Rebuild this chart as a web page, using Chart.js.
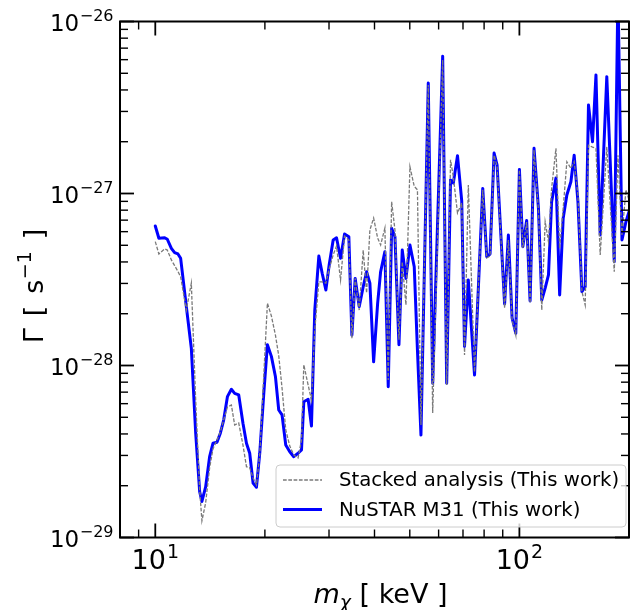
<!DOCTYPE html>
<html><head><meta charset="utf-8">
<script src="https://cdn.jsdelivr.net/npm/chart.js@4.4.0/dist/chart.umd.min.js"></script>
<style>html,body{margin:0;padding:0;background:#fff;}canvas{display:block;}</style>
</head><body>
<canvas id="c" width="637" height="610"></canvas>
<script>
// ---- data ----
const massKeV = [
 10.0, 10.23, 10.61, 10.79, 11.07, 11.30, 11.54, 11.74, 12.17, 12.56,
 12.91, 13.24, 13.43, 13.75, 14.10, 14.40, 14.77, 15.09, 15.41, 15.78,
 16.18, 16.52, 16.95, 17.41, 17.80, 18.17, 18.56, 18.96, 19.36, 19.86,
 20.32, 20.84, 21.38, 21.83, 22.29, 22.82, 23.41, 24.01, 24.67, 25.21,
 25.58, 26.29, 26.85, 27.42, 28.13, 28.73, 29.41, 30.03, 30.80, 31.46,
 32.27, 33.10, 34.01, 34.67, 35.40, 36.31, 37.24, 38.05, 38.85, 39.78,
 40.80, 41.58, 42.72, 43.63, 44.58, 45.52, 46.69, 47.67, 48.80, 50.05,
 51.43, 52.48, 53.66, 56.20, 57.79, 61.56, 63.14, 64.69, 65.85, 67.61,
 69.44, 70.68, 72.40, 75.30, 79.31, 81.35, 83.07, 85.21, 86.85, 91.07,
 93.27, 95.48, 97.75, 100.0, 102.2, 104.7, 107.0, 109.7, 112.8, 115.2,
 117.7, 120.2, 122.6, 126.0, 129.0, 131.9, 135.0, 138.5, 141.4, 144.8,
 148.5, 151.6, 154.8, 158.8, 162.3, 166.7, 173.8, 182.2, 186.5, 191.3,
 196.2, 200.0
];
const gammaM31 = [
 6.47e-28, 5.49e-28, 5.53e-28, 5.42e-28, 4.80e-28, 4.53e-28, 4.45e-28, 4.20e-28, 2.20e-28, 1.26e-28,
 4.05e-29, 1.85e-29, 1.62e-29, 1.97e-29, 2.95e-29, 3.53e-29, 3.58e-29, 4.04e-29, 4.82e-29, 6.59e-29,
 7.27e-29, 6.89e-29, 6.74e-29, 4.61e-29, 3.53e-29, 3.09e-29, 2.07e-29, 1.96e-29, 3.09e-29, 6.89e-29,
 1.32e-28, 1.13e-28, 8.61e-29, 5.51e-29, 5.16e-29, 3.45e-29, 3.15e-29, 2.95e-29, 3.09e-29, 3.23e-29,
 6.16e-29, 6.36e-29, 4.45e-29, 2.10e-28, 4.33e-28, 3.44e-28, 2.75e-28, 3.84e-28, 5.37e-28, 5.53e-28,
 4.20e-28, 5.82e-28, 5.61e-28, 1.50e-28, 3.21e-28, 2.20e-28, 2.87e-28, 3.51e-28, 3.01e-28, 1.05e-28,
 2.30e-28, 3.51e-28, 4.59e-28, 7.53e-29, 6.28e-28, 5.61e-28, 1.32e-28, 4.69e-28, 3.21e-28, 5.02e-28,
 3.75e-28, 1.23e-28, 3.94e-29, 4.39e-27, 7.88e-29, 6.28e-27, 7.88e-29, 1.20e-27, 1.15e-27, 1.66e-27,
 9.05e-28, 1.29e-28, 3.14e-28, 8.80e-29, 1.07e-27, 4.29e-28, 4.45e-28, 1.72e-27, 1.46e-27, 2.28e-28,
 5.74e-28, 1.89e-28, 1.54e-28, 1.38e-27, 4.91e-28, 6.97e-28, 2.37e-28, 1.83e-27, 8.20e-28, 2.40e-28,
 2.82e-28, 3.36e-28, 8.96e-28, 1.23e-27, 2.57e-28, 7.17e-28, 9.80e-28, 1.17e-27, 1.67e-27, 8.96e-28,
 2.69e-28, 2.87e-28, 3.27e-27, 2.00e-27, 4.89e-27, 5.74e-28, 4.78e-27, 4.01e-28, 1.50e-26, 5.37e-28,
 6.85e-28, 7.84e-28
];
const gammaStacked = [
 5.25e-28, 4.45e-28, 4.76e-28, 4.69e-28, 4.11e-28, 3.81e-28, 3.52e-28, 3.28e-28, 2.10e-28, 3.01e-28,
 6.30e-29, 1.89e-29, 1.25e-29, 1.59e-29, 2.54e-29, 3.27e-29, 3.69e-29, 4.11e-29, 4.82e-29, 5.74e-29,
 5.89e-29, 4.51e-29, 4.63e-29, 3.45e-29, 2.58e-29, 2.54e-29, 2.22e-29, 2.02e-29, 3.02e-29, 8.80e-29,
 2.30e-28, 1.94e-28, 1.50e-28, 1.14e-28, 7.40e-29, 4.22e-29, 3.40e-29, 3.02e-29, 2.90e-29, 3.69e-29,
 1.01e-28, 7.70e-29, 6.30e-29, 1.61e-28, 3.06e-28, 3.06e-28, 3.01e-28, 3.64e-28, 4.39e-28, 4.95e-28,
 3.14e-28, 5.66e-28, 5.37e-28, 1.44e-28, 3.21e-28, 2.10e-28, 4.69e-28, 2.64e-28, 6.14e-28, 7.20e-28,
 5.51e-28, 5.02e-28, 6.30e-28, 8.24e-29, 8.96e-28, 6.14e-28, 1.41e-28, 4.00e-28, 2.25e-28, 1.43e-27,
 1.10e-27, 1.05e-27, 4.51e-29, 4.27e-27, 5.30e-29, 5.97e-27, 7.70e-29, 1.57e-27, 1.25e-27, 7.70e-28,
 8.80e-28, 1.15e-28, 1.12e-27, 9.17e-29, 1.05e-27, 4.22e-28, 4.33e-28, 1.67e-27, 1.44e-27, 2.16e-28,
 5.37e-28, 1.84e-28, 1.50e-28, 1.37e-27, 4.82e-28, 6.83e-28, 2.31e-28, 1.79e-27, 8.02e-28, 2.10e-28,
 6.85e-28, 5.25e-28, 1.07e-27, 1.83e-27, 4.80e-28, 8.20e-28, 1.53e-27, 1.40e-27, 1.53e-27, 9.80e-28,
 2.69e-28, 2.25e-28, 1.91e-27, 1.86e-27, 1.83e-27, 4.39e-28, 1.87e-27, 3.51e-28, 1.67e-27, 5.74e-28,
 1.05e-27, 9.17e-28
];
const seriesLabels = ['Stacked analysis (This work)', 'NuSTAR M31 (This work)'];
const xMajorTicks = [10, 100];
const xMajorExponents = ['1', '2'];
const xMinorTicks = [8, 9, 20, 30, 40, 50, 60, 70, 80, 90, 200];
const yMajorTicks = [1e-29, 1e-28, 1e-27, 1e-26];
const yMajorExponents = ['\u221229', '\u221228', '\u221227', '\u221226'];
const yMinorMantissas = [2, 3, 4, 5, 6, 7, 8, 9];
const yMinorDecades = [1e-29, 1e-28, 1e-27];
const xRange = [8, 200];
const yRange = [1e-29, 1e-26];

const FONT = '"DejaVu Sans", sans-serif';

const decorPlugin = {
  id: 'decor',
  afterDatasetsDraw(chart) {
    const ctx = chart.ctx, a = chart.chartArea;
    const xs = chart.scales.x, ys = chart.scales.y;
    ctx.save();
    // frame
    ctx.strokeStyle = '#000';
    ctx.lineWidth = 2;
    ctx.strokeRect(a.left, a.top, a.right - a.left, a.bottom - a.top);
    // ticks (inward, all four sides)
    const tick = (x1, y1, x2, y2, lw) => {
      ctx.lineWidth = lw; ctx.beginPath(); ctx.moveTo(x1, y1); ctx.lineTo(x2, y2); ctx.stroke();
    };
    const MAJ = 14, MIN = 8;
    xMajorTicks.forEach(v => { const p = xs.getPixelForValue(v);
      tick(p, a.bottom, p, a.bottom - MAJ, 1.8); tick(p, a.top, p, a.top + MAJ, 1.8); });
    xMinorTicks.forEach(v => { const p = xs.getPixelForValue(v);
      tick(p, a.bottom, p, a.bottom - MIN, 1.4); tick(p, a.top, p, a.top + MIN, 1.4); });
    yMajorTicks.forEach(v => { const p = ys.getPixelForValue(v);
      tick(a.left, p, a.left + MAJ, p, 1.8); tick(a.right, p, a.right - MAJ, p, 1.8); });
    yMinorDecades.forEach(d => yMinorMantissas.forEach(m => { const p = ys.getPixelForValue(m * d);
      tick(a.left, p, a.left + MIN, p, 1.4); tick(a.right, p, a.right - MIN, p, 1.4); }));

    ctx.fillStyle = '#000';
    ctx.textBaseline = 'alphabetic';
    ctx.textAlign = 'left';
    // x tick labels 10^n
    xMajorTicks.forEach((v, i) => {
      const p = xs.getPixelForValue(v);
      ctx.font = '27px ' + FONT; const wb = ctx.measureText('10').width;
      ctx.font = '19px ' + FONT; const we = ctx.measureText(xMajorExponents[i]).width;
      const x0 = p - (wb + we + 1) / 2;
      const base = a.bottom + 31.5;
      ctx.font = '27px ' + FONT; ctx.fillText('10', x0, base);
      ctx.font = '19px ' + FONT; ctx.fillText(xMajorExponents[i], x0 + wb + 1, base - 11);
    });
    // y tick labels 10^-n
    yMajorTicks.forEach((v, i) => {
      const p = ys.getPixelForValue(v);
      ctx.font = '23px ' + FONT; const wb = ctx.measureText('10').width;
      ctx.font = '16px ' + FONT; const we = ctx.measureText(yMajorExponents[i]).width;
      const xr = a.left - 6.5;
      const base = p + 9.2;
      ctx.font = '16px ' + FONT; ctx.fillText(yMajorExponents[i], xr - we, base - 10);
      ctx.font = '23px ' + FONT; ctx.fillText('10', xr - we - wb - 0.5, base);
    });

    // x axis title: m_chi [ keV ]
    {
      const parts = [
        {t: 'm', f: 'italic 27px ' + FONT, dy: 0},
        {t: '\u03c7', f: 'italic 19px ' + FONT, dy: 5.5},
        {t: ' [ keV ]', f: '27px ' + FONT, dy: 0}
      ];
      let tw = 0; parts.forEach(p => { ctx.font = p.f; p.w = ctx.measureText(p.t).width; tw += p.w; });
      let x = (a.left + a.right) / 2 + 6 - tw / 2;
      const base = 603;
      parts.forEach(p => { ctx.font = p.f; ctx.fillText(p.t, x, base + p.dy); x += p.w; });
    }
    // y axis title: Gamma [ s^-1 ]
    {
      const parts = [
        {t: '\u0393', f: '27px ' + FONT, dy: 0, gap: 12},
        {t: '[', f: '27px ' + FONT, dy: 0, gap: 12},
        {t: 's', f: '27px ' + FONT, dy: 0, gap: 0.5},
        {t: '\u22121', f: '19px ' + FONT, dy: -12, gap: 12},
        {t: ']', f: '27px ' + FONT, dy: 0, gap: 0}
      ];
      let tw = 0; parts.forEach(p => { ctx.font = p.f; p.w = ctx.measureText(p.t).width; tw += p.w + p.gap; });
      ctx.save();
      ctx.translate(43, 286);
      ctx.rotate(-Math.PI / 2);
      let x = -tw / 2;
      parts.forEach(p => { ctx.font = p.f; ctx.fillText(p.t, x, p.dy); x += p.w + p.gap; });
      ctx.restore();
    }

    // legend (lower right, inside axes)
    {
      const bx = 276, by = 465, bw = 350, bh = 62, r = 4;
      ctx.beginPath();
      ctx.moveTo(bx + r, by); ctx.lineTo(bx + bw - r, by); ctx.arcTo(bx + bw, by, bx + bw, by + r, r);
      ctx.lineTo(bx + bw, by + bh - r); ctx.arcTo(bx + bw, by + bh, bx + bw - r, by + bh, r);
      ctx.lineTo(bx + r, by + bh); ctx.arcTo(bx, by + bh, bx, by + bh - r, r);
      ctx.lineTo(bx, by + r); ctx.arcTo(bx, by, bx + r, by, r); ctx.closePath();
      ctx.fillStyle = 'rgba(255,255,255,0.8)'; ctx.fill();
      ctx.strokeStyle = '#cccccc'; ctx.lineWidth = 1; ctx.stroke();
      const rows = [480, 509.5];
      chart.data.datasets.forEach((ds, i) => {
        const y = rows[i];
        ctx.save();
        ctx.strokeStyle = ds.borderColor; ctx.lineWidth = ds.borderWidth;
        ctx.setLineDash(ds.borderDash || []);
        ctx.beginPath(); ctx.moveTo(283, y); ctx.lineTo(322, y); ctx.stroke();
        ctx.restore();
        ctx.fillStyle = '#000'; ctx.font = '19.7px ' + FONT;
        ctx.textBaseline = 'middle';
        ctx.fillText(ds.label, 339, y + 1);
        ctx.textBaseline = 'alphabetic';
      });
    }
    ctx.restore();
  }
};

const ctx = document.getElementById('c').getContext('2d');
new Chart(ctx, {
  type: 'line',
  data: {
    datasets: [
      { label: seriesLabels[0], data: massKeV.map((m, i) => ({x: m, y: gammaStacked[i]})),
        borderColor: '#7a7a7a', borderWidth: 1.3, borderDash: [3.7, 1.6],
        pointRadius: 0, fill: false, tension: 0, order: 0, clip: 0 },
      { label: seriesLabels[1], data: massKeV.map((m, i) => ({x: m, y: gammaM31[i]})),
        borderColor: '#0000ff', borderWidth: 3,
        pointRadius: 0, fill: false, tension: 0, order: 1, clip: 0, borderJoinStyle: 'round', borderCapStyle: 'round' }
    ]
  },
  options: {
    responsive: false,
    devicePixelRatio: 1,
    animation: false,
    layout: { padding: { top: 21.5, right: 8, left: 0, bottom: 0 } },
    plugins: { legend: { display: false }, tooltip: { enabled: false } },
    scales: {
      x: { type: 'logarithmic', min: xRange[0], max: xRange[1],
           ticks: { display: false }, grid: { display: false }, border: { display: false },
           afterFit(s) { s.height = 72.5; } },
      y: { type: 'logarithmic', min: yRange[0], max: yRange[1],
           ticks: { display: false }, grid: { display: false }, border: { display: false },
           afterFit(s) { s.width = 120; } }
    }
  },
  plugins: [decorPlugin]
});
</script>
</body></html>
